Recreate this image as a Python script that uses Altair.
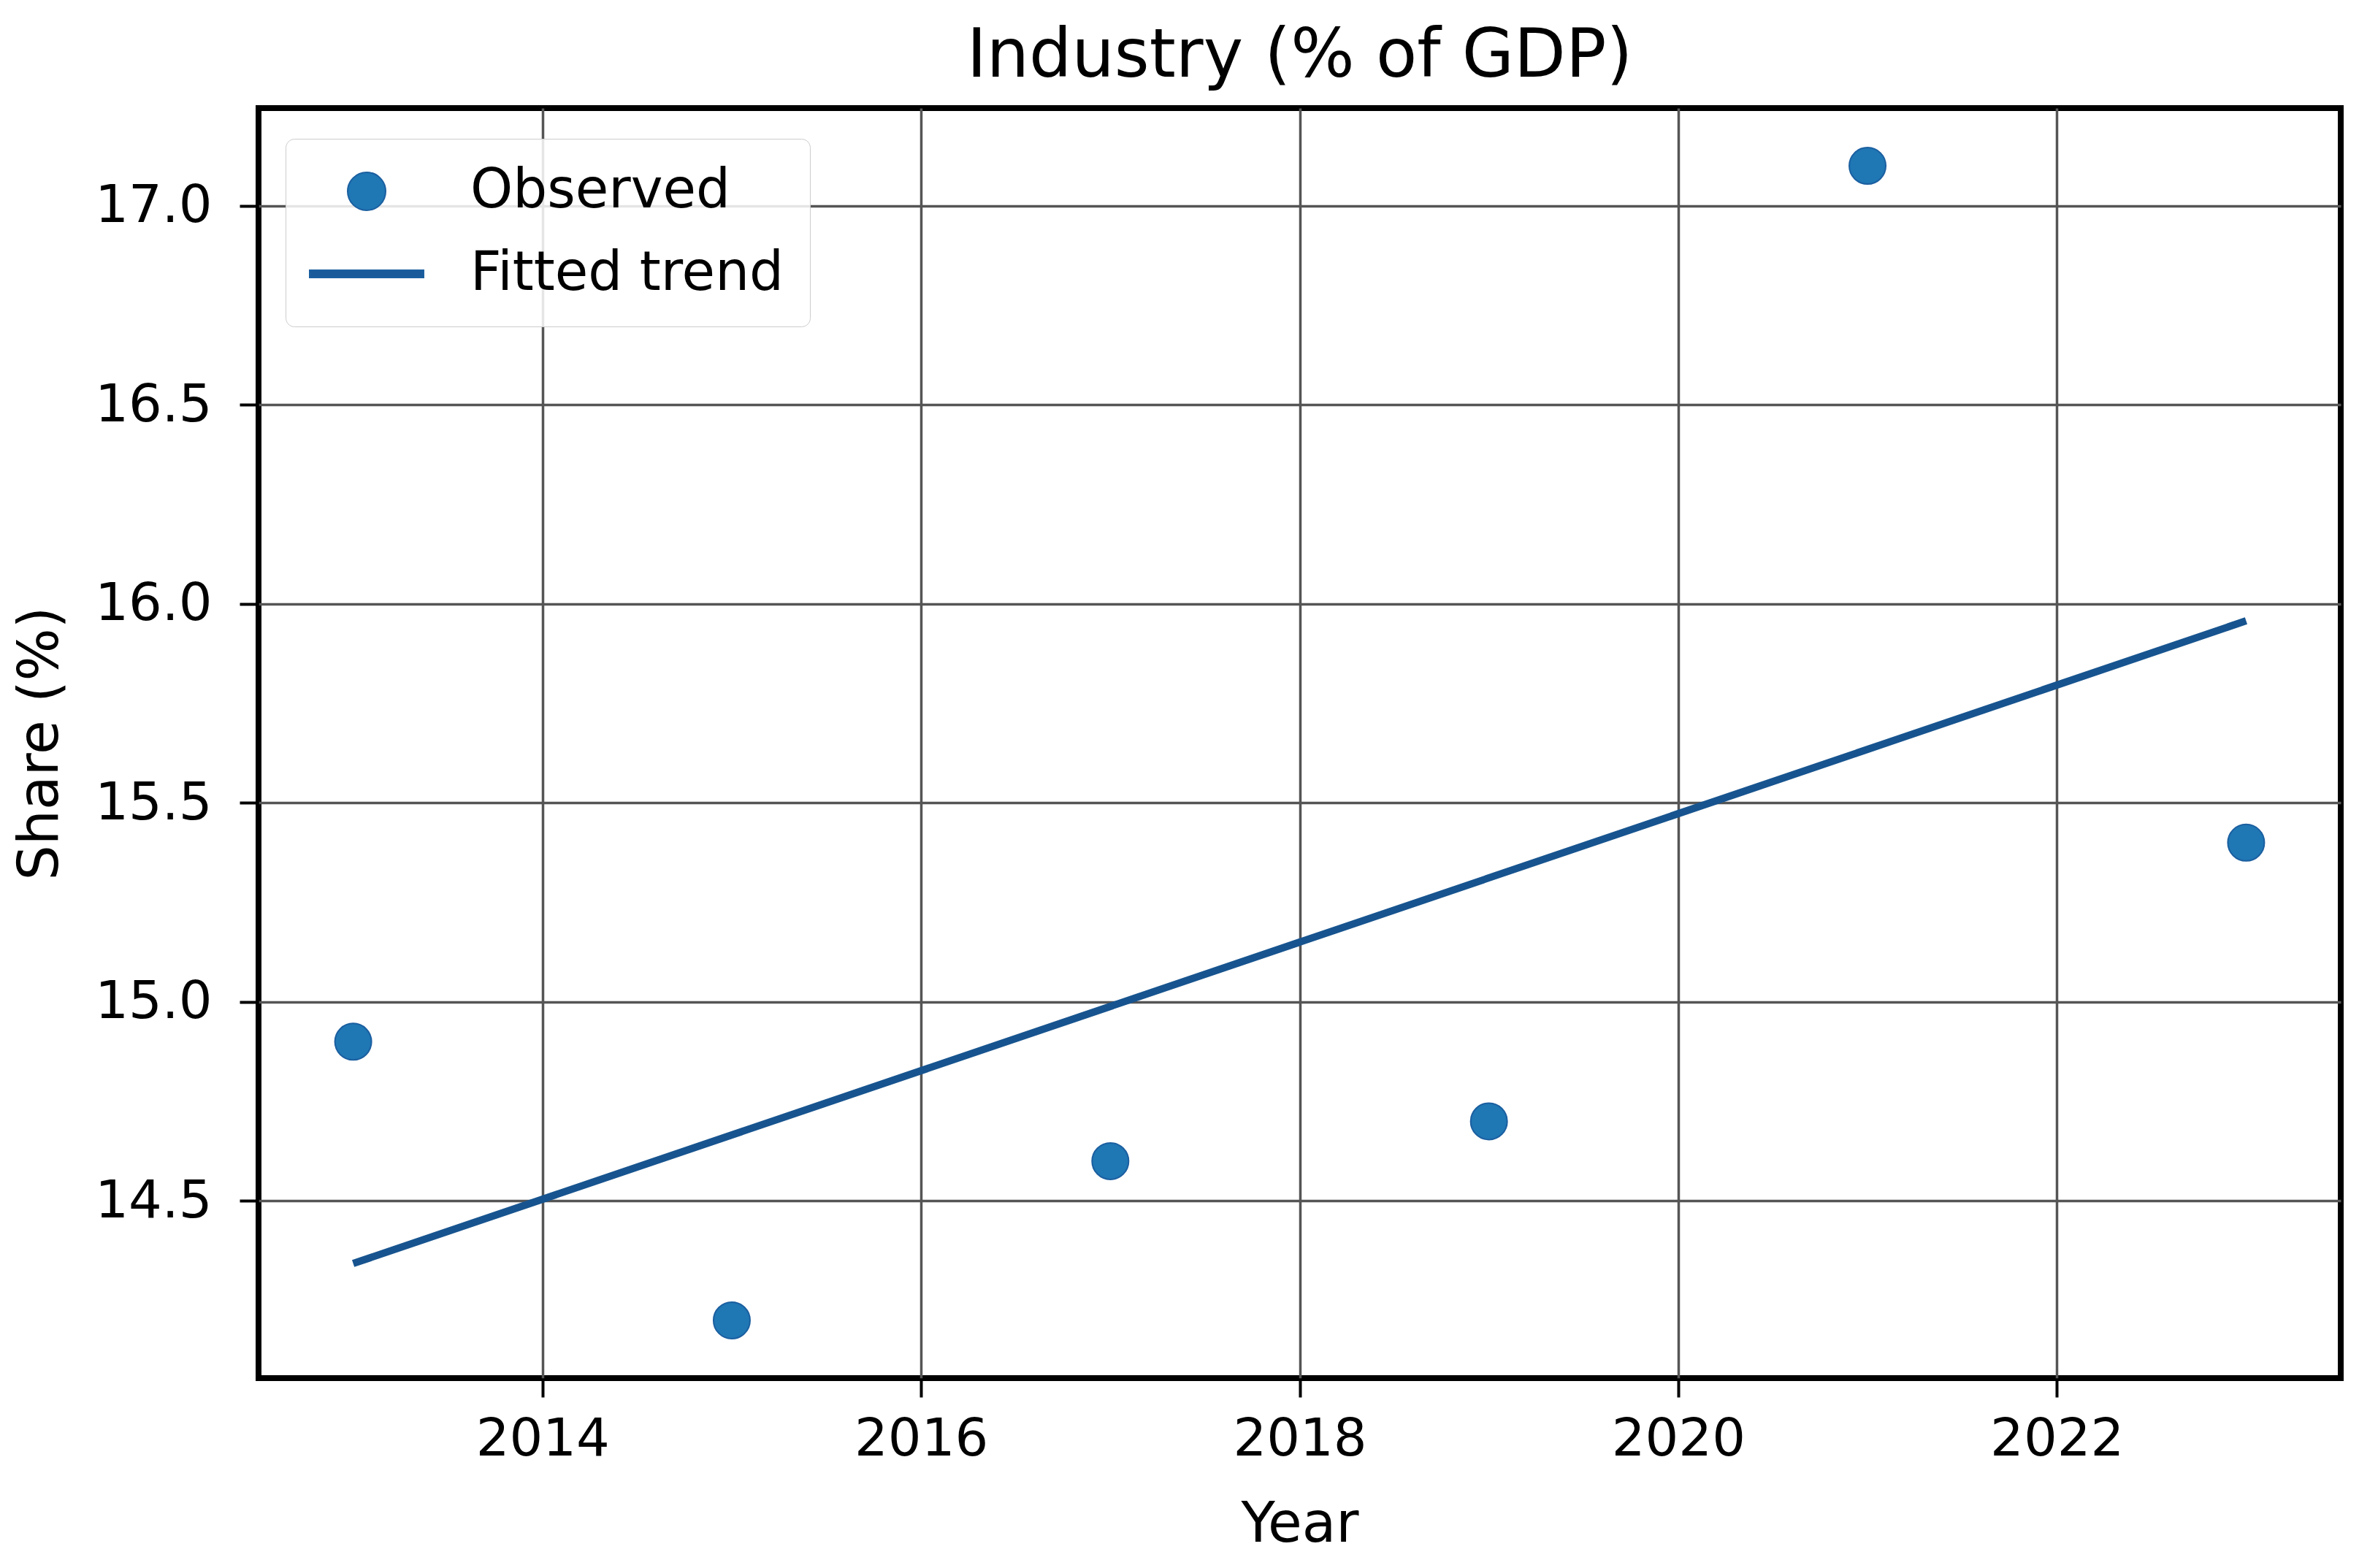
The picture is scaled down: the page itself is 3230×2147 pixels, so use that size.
import altair as alt
import pandas as pd

years = [2013, 2015, 2017, 2019, 2021, 2023]
shares = [14.9, 14.2, 14.6, 14.7, 17.1, 15.4]

series_names = ["Observed", "Fitted trend"]
series_colors = ["#1f77b4", "#1a5a9a"]
x_ticks = [2014, 2016, 2018, 2020, 2022]
y_ticks = [14.5, 15.0, 15.5, 16.0, 16.5, 17.0]

df = pd.DataFrame({"year": years, "share": shares, "series": ["Observed"] * len(years)})

FONT = "DejaVu Sans"
W, H = 2851, 1739

x_enc = alt.X(
    "year:Q",
    title="Year",
    scale=alt.Scale(domain=[2012.5, 2023.5], nice=False, zero=False),
    axis=alt.Axis(values=x_ticks, format="d"),
)
y_enc = alt.Y(
    "share:Q",
    title="Share (%)",
    scale=alt.Scale(domain=[14.055, 17.245], nice=False, zero=False),
    axis=alt.Axis(values=y_ticks, format=".1f", titlePadding=60, labelPadding=38),
)

legend = alt.Legend(
    title=None,
    orient="none",
    legendX=37,
    legendY=42,
    padding=35,
    symbolOffset=39,
    labelOffset=105,
    rowPadding=39,
    symbolSize=2704,
    symbolStrokeWidth=2,
    labelFontSize=74,
    labelFont=FONT,
    labelColor="black",
    labelLimit=0,
    fillColor="rgba(255,255,255,0.85)",
    strokeColor="#cccccc",
    cornerRadius=12,
)

points = alt.Chart(df).mark_point(
    filled=True, size=2500, opacity=1, stroke="#1b5fa0", strokeWidth=2
).encode(
    x=x_enc,
    y=y_enc,
    fill=alt.Fill(
        "series:N",
        scale=alt.Scale(domain=series_names, range=series_colors),
        legend=legend,
    ),
    shape=alt.Shape(
        "series:N",
        scale=alt.Scale(
            domain=series_names,
            range=["circle", "M-3,-0.19L3,-0.19L3,0.19L-3,0.19Z"],
        ),
        legend=legend,
    ),
)

trend = alt.Chart(df).transform_regression(
    "year", "share"
).mark_line(color="#17548f", strokeWidth=10).encode(
    x=alt.X("year:Q"),
    y=alt.Y("share:Q"),
)

chart = alt.layer(points, trend).properties(
    width=W,
    height=H,
    title=alt.TitleParams(
        "Industry (% of GDP)",
        fontSize=92,
        font=FONT,
        fontWeight="normal",
        color="black",
        anchor="middle",
        frame="group",
        offset=24,
    ),
    autosize=alt.AutoSizeParams(type="none"),
    padding={"left": 346, "top": 140, "right": 17, "bottom": 250},
).configure_view(
    stroke="black", strokeWidth=8
).configure_axis(
    domain=False,
    grid=True,
    gridColor="#555555",
    gridWidth=3.5,
    ticks=True,
    tickColor="black",
    tickSize=26,
    tickWidth=4,
    labelFont=FONT,
    labelFontSize=72,
    labelColor="black",
    labelLimit=0,
    titleFont=FONT,
    titleFontSize=76,
    titleFontWeight="normal",
    titleColor="black",
).configure_axisX(
    labelPadding=22, titlePadding=44
)

chart.save("out.html", embed_options={"renderer": "svg", "actions": False})
